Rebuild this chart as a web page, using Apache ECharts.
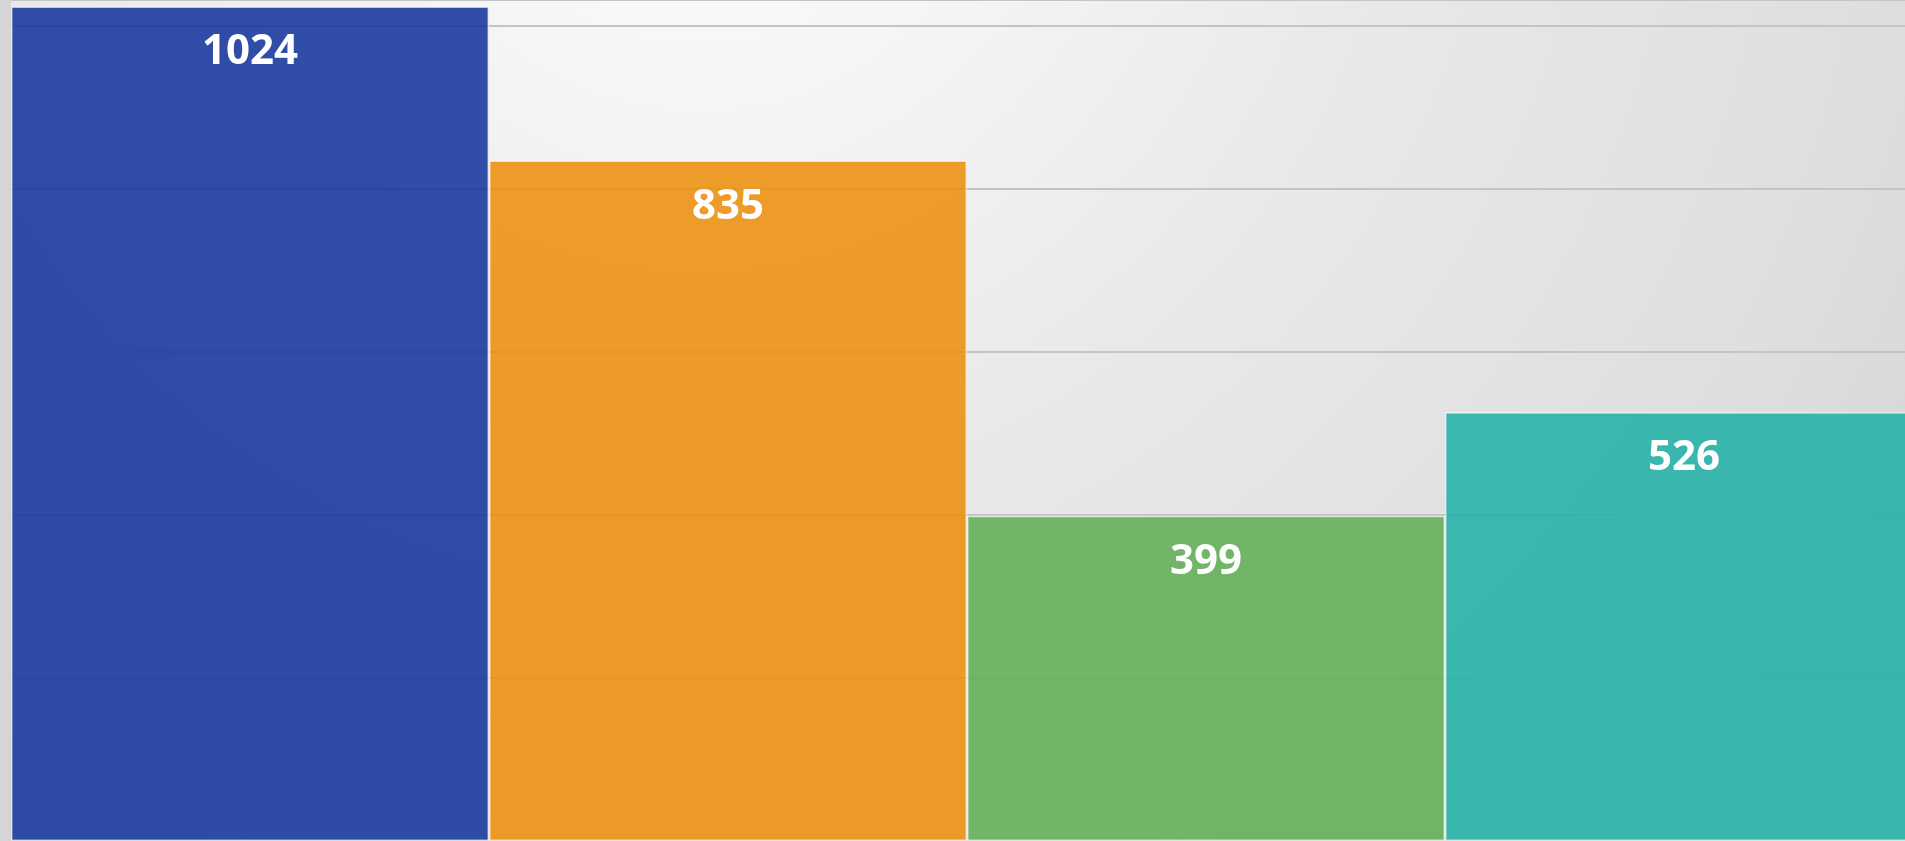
<!DOCTYPE html>
<html>
<head>
<meta charset="utf-8">
<title>Bar chart</title>
<script src="https://cdn.jsdelivr.net/npm/echarts@6/dist/echarts.min.js"></script>
<style>
  html, body { margin: 0; padding: 0; }
  #chart { width: 1905px; height: 841px; }
</style>
</head>
<body>
<div id="chart"></div>
<script>
'use strict';

var categories = ['A', 'B', 'C', 'D'];
var values = [1024, 835, 399, 526];
// slightly see-through fills, the grid lines show through them
var barColors = [
    'rgba(21,53,156,0.88)',
    'rgba(236,144,13,0.88)',
    'rgba(98,173,86,0.88)',
    'rgba(34,177,167,0.88)'
];

var option = {
    animation: false,
    backgroundColor: {
        type: 'radial',
        x: 0.367, y: -0.24, r: 1.66,
        colorStops: [
            {offset: 0, color: '#fefefe'},
            {offset: 0.2, color: '#f6f6f6'},
            {offset: 0.5, color: '#e9e9e9'},
            {offset: 0.87, color: '#dedede'},
            {offset: 1, color: '#d7d7d7'}
        ]
    },
    graphic: [
        {
            type: 'rect',
            left: 0, top: 0,
            shape: {width: 11, height: 841},
            style: {fill: '#d5d5d5'},
            z: -1
        }
    ],
    grid: {
        left: 11,
        top: 0,
        bottom: 0,
        width: 1912,
        outerBoundsMode: 'none'
    },
    xAxis: {
        type: 'category',
        data: categories,
        axisLine: {show: false},
        axisTick: {show: false},
        axisLabel: {show: false}
    },
    yAxis: {
        type: 'value',
        min: 0,
        max: 1032,
        interval: 200,
        axisLabel: {show: false},
        axisLine: {show: false},
        axisTick: {show: false},
        splitLine: {
            lineStyle: {color: '#c4c4c4', width: 2}
        }
    },
    series: [
        {
            type: 'bar',
            barCategoryGap: 0,
            data: values.map(function(v, i){
                return {
                    value: v,
                    itemStyle: {color: barColors[i]}
                };
            }),
            itemStyle: {
                borderColor: 'rgba(255,255,255,0.6)',
                borderWidth: 1.5
            },
            label: {
                show: true,
                position: 'insideTop',
                distance: 25,
                color: '#ffffff',
                fontFamily: 'Open Sans',
                fontWeight: 'bold',
                fontSize: 42
            }
        }
    ]
};

var myChart = echarts.init(document.getElementById('chart'));
myChart.setOption(option);
</script>
</body>
</html>
